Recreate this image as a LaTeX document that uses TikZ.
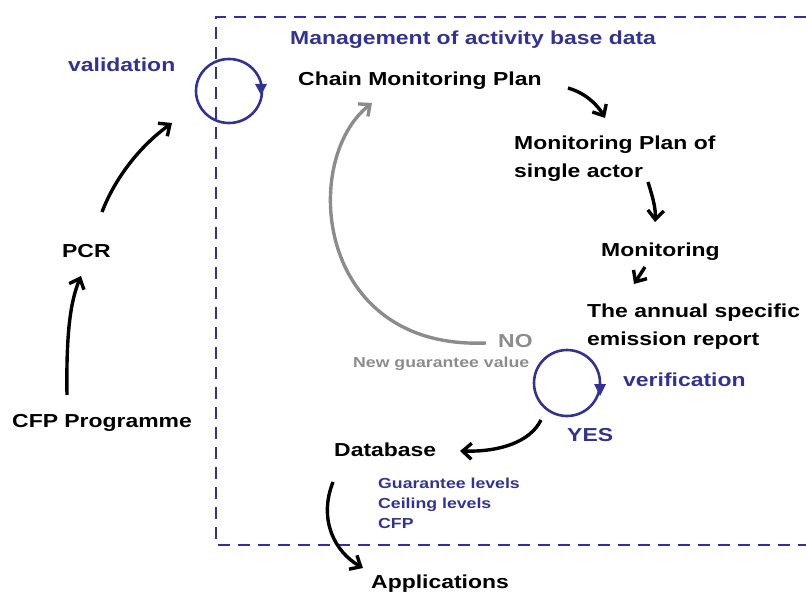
\documentclass[tikz,border=0pt]{standalone}
\usepackage{fontspec}
\setmainfont{Liberation Sans}[FakeStretch=1.22]
\usetikzlibrary{arrows.meta}
\definecolor{dblue}{RGB}{50,50,150}
\definecolor{lgray}{RGB}{140,140,140}
\tikzset{
  lbl/.style={anchor=west,inner sep=0pt,font=\fontsize{18.8}{28}\selectfont\bfseries,align=left},
  blbl/.style={lbl,text=dblue},
  slbl/.style={anchor=west,inner sep=0pt,font=\fontsize{14.5}{20}\selectfont\bfseries,align=left},
  conn/.style={line width=3.4pt,-{Straight Barb[length=9pt,width=16pt,line width=3.4pt]}},
  loopc/.style={draw=dblue,line width=2.6pt},
  tip/.style={fill=dblue,draw=none},
  frame/.style={draw=dblue,line width=2.5pt,dash pattern=on 12pt off 8pt}
}
\begin{document}
\begin{tikzpicture}[x=1pt,y=-1pt]
\useasboundingbox (0,0) rectangle (806,594);
% frame
\draw[frame] (806,17) -- (216,17) -- (216,545) -- (806,545);
% labels
\node[blbl] (mgmt) at (290,40) {Management of activity base data};
\node[blbl] (valid) at (68,65) {validation};
\node[lbl] (chain) at (298,80.5) {Chain Monitoring Plan};
\node[lbl] (single) at (514,158.5) {Monitoring Plan of\\single actor};
\node[lbl] (monit) at (601,251.5) {Monitoring};
\node[lbl] (annual) at (587,326.5) {The annual specific\\emission report};
\node[lbl,text=lgray] (no) at (498,341) {NO};
\node[slbl,text=lgray] (newg) at (353,364) {New guarantee value};
\node[blbl] (verif) at (623,379.5) {verification};
\node[blbl] (yes) at (567,435.5) {YES};
\node[lbl] (db) at (334,449.5) {Database};
\node[slbl,text=dblue] (levels) at (378,503) {Guarantee levels\\Ceiling levels\\CFP};
\node[lbl] (apps) at (371,584) {Applications};
\node[lbl] (pcr) at (62,251.5) {PCR};
\node[lbl] (cfp) at (12,423) {CFP Programme};
% cycles
\draw[loopc] (229,91) ellipse [x radius=33pt, y radius=32pt];
\fill[tip] (255,84) -- (267,84) -- (261,95) -- cycle;
\draw[loopc] (567,383) ellipse [x radius=33pt, y radius=33pt];
\fill[tip] (594,384) -- (606,384) -- (600,396) -- cycle;
% coordinates
\coordinate (c1) at (67,395);  \coordinate (c2) at (81,276);
\coordinate (p1) at (102,212); \coordinate (p2) at (172,123);
\coordinate (h1) at (568,88);  \coordinate (h2) at (605,118);
\coordinate (s1) at (648,182); \coordinate (s2) at (655,222);
\coordinate (m1) at (645,267); \coordinate (m2) at (634,284);
\coordinate (v1) at (541,420); \coordinate (v2) at (460,451);
\coordinate (d1) at (333,482); \coordinate (d2) at (363,568);
\coordinate (n1) at (486,343); \coordinate (n2) at (372,103);
% connectors
\draw[conn] (c1) .. controls (66,330) and (71,300) .. (c2);
\draw[conn] (p1) .. controls (115,178) and (140,146) .. (p2);
\draw[conn] (h1) .. controls (585,93) and (597,104) .. (h2);
\draw[conn] (s1) .. controls (652,195) and (656,208) .. (s2);
\draw[conn] (m1) -- (m2);
\draw[conn] (v1) .. controls (530,442) and (500,452) .. (v2);
\draw[conn] (d1) .. controls (318,520) and (335,552) .. (d2);
\draw[conn,draw=lgray] (n1) .. controls (315,350) and (300,160) .. (n2);
\end{tikzpicture}
\end{document}
